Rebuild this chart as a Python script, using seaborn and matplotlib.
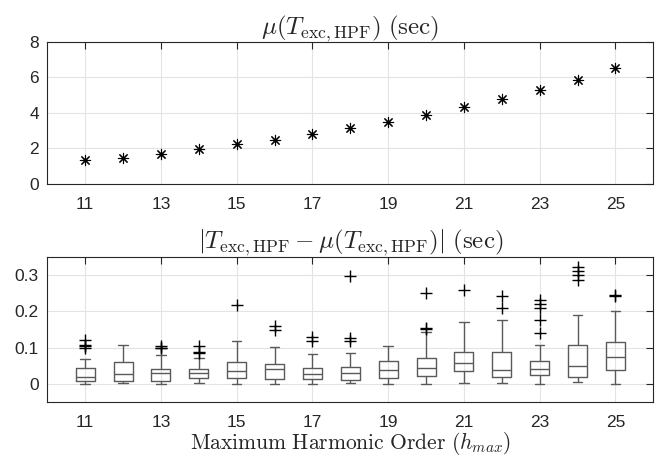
import numpy as np
import pandas as pd
import matplotlib
matplotlib.use("Agg")
import matplotlib.pyplot as plt
import seaborn as sns

# ---- data ----
h_orders = [11, 12, 13, 14, 15, 16, 17, 18, 19, 20, 21, 22, 23, 24, 25]
mean_texc = [1.35, 1.46, 1.69, 1.95, 2.23, 2.46, 2.80, 3.17, 3.48, 3.87, 4.32, 4.78, 5.28, 5.86, 6.53]

whisk_lo = [0.000, 0.003, 0.000, 0.002, 0.000, 0.000, 0.000, 0.002, 0.000, 0.000, 0.002, 0.003, 0.000, 0.005, 0.000]
q1 = [0.008, 0.009, 0.008, 0.016, 0.015, 0.013, 0.014, 0.011, 0.017, 0.022, 0.034, 0.019, 0.025, 0.020, 0.037]
median = [0.020, 0.028, 0.029, 0.029, 0.035, 0.040, 0.027, 0.030, 0.038, 0.044, 0.057, 0.038, 0.042, 0.050, 0.073]
q3 = [0.044, 0.059, 0.042, 0.042, 0.061, 0.056, 0.044, 0.046, 0.063, 0.071, 0.089, 0.089, 0.062, 0.106, 0.115]
whisk_hi = [0.068, 0.108, 0.079, 0.070, 0.117, 0.102, 0.081, 0.084, 0.105, 0.142, 0.169, 0.175, 0.107, 0.190, 0.202]
outliers = [
    [0.122, 0.106, 0.103, 0.100],
    [],
    [0.103, 0.100, 0.098],
    [0.103, 0.089, 0.085],
    [0.216],
    [0.160, 0.148],
    [0.128, 0.119],
    [0.298, 0.125, 0.119],
    [],
    [0.250, 0.155, 0.152],
    [0.259],
    [0.242, 0.208],
    [0.231, 0.220, 0.208, 0.176, 0.141],
    [0.323, 0.312, 0.300, 0.285],
    [0.245, 0.241],
]

# Build sample sets whose quartiles / whiskers / outliers reproduce the read statistics
rows = []
for i, h in enumerate(h_orders):
    vals = [whisk_lo[i]] + [q1[i]] * 7 + [median[i]] * 7 + [q3[i]] * 7 + [whisk_hi[i]] + outliers[i]
    rows += [(h, v) for v in vals]
df_dev = pd.DataFrame(rows, columns=["h", "dev"])
df_mean = pd.DataFrame({"h": h_orders, "mean": mean_texc})

tick_pos = [11, 13, 15, 17, 19, 21, 23, 25]

# ---- style ----
sns.set_style("white")
plt.rcParams["font.family"] = ["Liberation Sans", "DejaVu Sans"]
plt.rcParams["mathtext.fontset"] = "cm"

axis_col = "#262626"
grid_col = "#e3e3e3"

fig = plt.figure(figsize=(6.64, 4.58), dpi=100)
ax1 = fig.add_axes([0.0712, 0.5983, 0.9127, 0.310])
ax2 = fig.add_axes([0.0712, 0.1223, 0.9127, 0.317])

# top panel
sns.scatterplot(data=df_mean, x="h", y="mean", ax=ax1, marker=(8, 2, 0),
                color="k", s=55, linewidth=0.8, zorder=3, legend=False)
ax1.set_xlim(10, 26)
ax1.set_ylim(0, 8)
ax1.set_yticks([0, 2, 4, 6, 8])
ax1.set_title(r"$\mu(T_{\rm exc,HPF})\ {\rm (sec)}$", fontsize=18, pad=5.5)

# bottom panel
sns.boxplot(data=df_dev, x="h", y="dev", ax=ax2, native_scale=True, width=0.5,
            fill=False, color="#5a5a5a", linewidth=1.0, whis=1.5,
            flierprops=dict(marker="+", markeredgecolor="k", markersize=8, markeredgewidth=1.0),
            medianprops=dict(color="#5a5a5a"))
ax2.set_xlim(10, 26)
ax2.set_ylim(-0.05, 0.35)
ax2.set_yticks([0, 0.1, 0.2, 0.3])
ax2.set_yticklabels(["0", "0.1", "0.2", "0.3"])
ax2.set_title(r"$|T_{\rm exc,HPF} - \mu(T_{\rm exc,HPF})|\ {\rm (sec)}$", fontsize=18, pad=6.5)
ax2.set_xlabel(r"${\rm Maximum\ Harmonic\ Order\ (}h_{max}{\rm )}$", fontsize=15.5, labelpad=0)

for ax in (ax1, ax2):
    ax.set_xticks(tick_pos)
    ax.set_xticklabels([str(t) for t in tick_pos])
    if ax is ax1:
        ax.set_xlabel("")
    ax.set_ylabel("")
    ax.grid(True, color=grid_col, linewidth=0.8)
    ax.set_axisbelow(True)
    ax.tick_params(direction="in", length=5, width=0.8, color=axis_col,
                   top=True, right=True, labelsize=12.5, labelcolor=axis_col, pad=6)
    ax.tick_params(axis="x", pad=9.5)
    for s in ax.spines.values():
        s.set_color(axis_col)
        s.set_linewidth(0.8)
        s.set_visible(True)

fig.savefig("out.png", dpi=100)
